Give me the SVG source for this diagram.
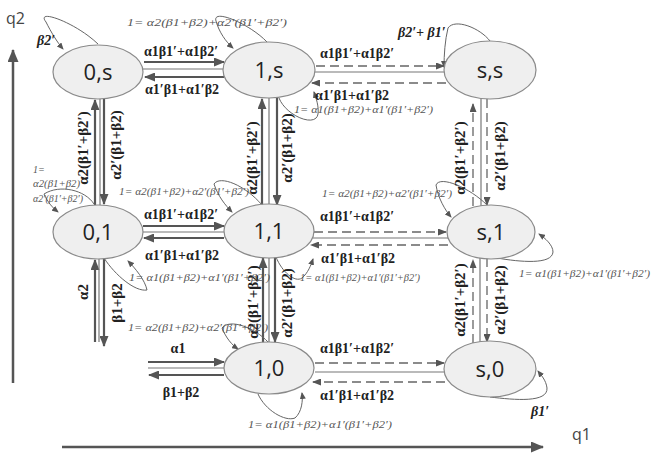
<svg xmlns="http://www.w3.org/2000/svg" width="651" height="454" viewBox="0 0 651 454">
<style>
.node ellipse{fill:#efefef;stroke:#8a8a8a;stroke-width:1.2}
.node text{font-family:"Open Sans","Liberation Sans",sans-serif;font-size:22px;fill:#222;text-anchor:middle}
.arr{stroke:#555;stroke-width:2.2;fill:none;marker-end:url(#ah)}
.mid{stroke:#777;stroke-width:1.2;fill:none}
.dash{stroke:#666;stroke-width:1.3;fill:none;stroke-dasharray:9,5;marker-end:url(#ahs)}
.loop{stroke:#666;stroke-width:1;fill:none;marker-end:url(#ahl)}
.axis{stroke:#555;stroke-width:2.5;fill:none}
.lbl{font-family:"Liberation Serif","DejaVu Serif",serif;font-size:14px;font-weight:bold;fill:#222}
.c{text-anchor:middle}
.vl{font-family:"Liberation Serif","DejaVu Serif",serif;font-size:15px;font-weight:bold;fill:#222;text-anchor:middle;dominant-baseline:central}
.sm{font-family:"Liberation Serif","DejaVu Serif",serif;font-size:10px;fill:#555;font-style:italic}
.ax{font-family:"Open Sans","Liberation Sans",sans-serif;font-size:16px;fill:#444}
</style>
<defs>
<marker id="ah" markerUnits="userSpaceOnUse" markerWidth="11" markerHeight="9" refX="10" refY="4.5" orient="auto"><path d="M0,0 L11,4.5 L0,9 z" fill="#555"/></marker>
<marker id="ahs" markerUnits="userSpaceOnUse" markerWidth="9" markerHeight="7" refX="8" refY="3.5" orient="auto"><path d="M0,0 L9,3.5 L0,7 z" fill="#555"/></marker>
<marker id="ahl" markerUnits="userSpaceOnUse" markerWidth="7" markerHeight="6" refX="6" refY="3" orient="auto"><path d="M0,0 L7,3 L0,6 z" fill="#555"/></marker>
<marker id="aha" markerUnits="userSpaceOnUse" markerWidth="13" markerHeight="11" refX="12" refY="5.5" orient="auto"><path d="M0,0 L13,5.5 L0,11 z" fill="#555"/></marker>
</defs>

<g id="axes">
<line class="axis" x1="13" y1="383" x2="13" y2="50" marker-end="url(#aha)"/>
<line class="axis" x1="62" y1="447" x2="543" y2="447" marker-end="url(#aha)"/>
<text class="ax" x="6" y="24">q2</text>
<text class="ax" x="572" y="440">q1</text>
</g>

<g id="connectors">
<line class="arr" x1="144" y1="62" x2="224" y2="62"/>
<line class="mid" x1="143" y1="69" x2="224" y2="69"/>
<line class="arr" x1="224" y1="77" x2="145" y2="77"/>
<line class="dash" x1="316" y1="66" x2="444" y2="66"/>
<line class="mid" x1="315" y1="72" x2="446" y2="72"/>
<line class="dash" x1="446" y1="83" x2="312" y2="83"/>
<line class="arr" x1="143" y1="226" x2="224" y2="226"/>
<line class="mid" x1="143" y1="232" x2="224" y2="232"/>
<line class="arr" x1="224" y1="238" x2="144" y2="238"/>
<line class="dash" x1="314" y1="232" x2="446" y2="232"/>
<line class="mid" x1="313" y1="238" x2="448" y2="238"/>
<line class="dash" x1="448" y1="245" x2="311" y2="245"/>
<line class="arr" x1="148" y1="362" x2="224" y2="362"/>
<line class="mid" x1="148" y1="368" x2="224" y2="368"/>
<line class="arr" x1="224" y1="375" x2="149" y2="375"/>
<line class="dash" x1="315" y1="363" x2="444" y2="363"/>
<line class="mid" x1="315" y1="372" x2="445" y2="372"/>
<line class="dash" x1="445" y1="382" x2="313" y2="382"/>
<line class="arr" x1="95" y1="205" x2="95" y2="100"/>
<line class="mid" x1="100" y1="99" x2="100" y2="205"/>
<line class="arr" x1="104" y1="99" x2="104" y2="204"/>
<line class="arr" x1="95" y1="342" x2="95" y2="260"/>
<line class="mid" x1="99" y1="258" x2="99" y2="342"/>
<line class="arr" x1="104" y1="258" x2="104" y2="346"/>
<line class="arr" x1="262" y1="206" x2="262" y2="99"/>
<line class="mid" x1="269" y1="98" x2="269" y2="206"/>
<line class="arr" x1="277" y1="98" x2="277" y2="205"/>
<line class="arr" x1="263" y1="343" x2="263" y2="258"/>
<line class="mid" x1="269" y1="257" x2="269" y2="343"/>
<line class="arr" x1="275" y1="257" x2="275" y2="342"/>
<line class="dash" x1="473" y1="206" x2="473" y2="104"/>
<line class="mid" x1="481" y1="99" x2="481" y2="213"/>
<line class="dash" x1="487" y1="99" x2="487" y2="205"/>
<line class="dash" x1="473" y1="343" x2="473" y2="260"/>
<line class="mid" x1="480" y1="258" x2="480" y2="350"/>
<line class="dash" x1="487" y1="258" x2="487" y2="342"/>
<path class="loop" d="M98 44 C75 22 35 8 46 22 C51 32 57 42 63 49"/>
<path class="loop" d="M267 42 C250 24 212 8 216 21 C219 32 226 42 233 48"/>
<path class="loop" d="M279 98 C286 116 316 128 318 114 C319 106 316 98 314 92"/>
<path class="loop" d="M490 41 C480 28 455 18 448 28 C445 40 444 55 444 67"/>
<path class="loop" d="M94 204 C85 190 60 184 44 194 C48 203 53 208 58 212"/>
<path class="loop" d="M104 258 C115 275 135 292 147 290 C145 280 135 268 128 261"/>
<path class="loop" d="M262 205 C245 185 220 175 214 184 C218 196 225 205 232 212"/>
<path class="loop" d="M276 257 C282 272 295 283 302 278 C308 273 311 265 313 259"/>
<path class="loop" d="M487 205 C470 188 440 175 436 185 C438 198 445 210 451 217"/>
<path class="loop" d="M497 258 C520 262 552 265 553 252 C553 245 545 238 539 234"/>
<path class="loop" d="M268 342 C255 328 230 318 222 328 C226 338 232 345 238 349"/>
<path class="loop" d="M258 394 C265 410 285 422 295 418 C302 412 303 400 302 393"/>
<path class="loop" d="M490 397 C515 400 548 403 547 388 C546 380 541 375 538 371"/>
</g>

<g id="labels">
<text class="lbl c" x="181" y="56">α1β1′+α1β2′</text>
<text class="lbl c" x="182" y="94">α1′β1+α1′β2</text>
<text class="lbl c" x="357" y="58">α1β1′+α1β2′</text>
<text class="lbl c" x="352" y="100">α1′β1+α1′β2</text>
<text class="lbl c" x="181" y="219">α1β1′+α1β2′</text>
<text class="lbl c" x="182" y="260">α1′β1+α1′β2</text>
<text class="lbl c" x="357" y="221">α1β1′+α1β2′</text>
<text class="lbl c" x="358" y="263">α1′β1+α1′β2</text>
<text class="lbl c" x="178" y="353">α1</text>
<text class="lbl c" x="181" y="397">β1+β2</text>
<text class="lbl c" x="357" y="353">α1β1′+α1β2′</text>
<text class="lbl c" x="357" y="400">α1′β1+α1′β2</text>
<text class="lbl" x="37" y="45" font-style="italic">β2′</text>
<text class="lbl" x="398" y="37" font-style="italic">β2′+ β1′</text>
<text class="lbl" x="531" y="416" font-style="italic" font-size="11">β1′</text>

<text class="vl" transform="translate(83 148) rotate(-90)">α2(β1′+β2′)</text>
<text class="vl" transform="translate(116 145) rotate(-90)">α2′(β1+β2)</text>
<text class="vl" transform="translate(252 158) rotate(-90)">α2(β1′+β2′)</text>
<text class="vl" transform="translate(287 148) rotate(-90)">α2′(β1+β2)</text>
<text class="vl" transform="translate(460 158) rotate(-90)">α2(β1′+β2′)</text>
<text class="vl" transform="translate(500 156) rotate(-90)">α2′(β1+β2)</text>
<text class="vl" transform="translate(83 292) rotate(-90)">α2</text>
<text class="vl" transform="translate(117 303) rotate(-90)">β1+β2</text>
<text class="vl" transform="translate(253 302) rotate(-90)">α2(β1′+β2′)</text>
<text class="vl" transform="translate(287 303) rotate(-90)">α2′(β1+β2)</text>
<text class="vl" transform="translate(460 300) rotate(-90)">α2(β1′+β2′)</text>
<text class="vl" transform="translate(500 300) rotate(-90)">α2′(β1+β2)</text>

<text class="sm" x="127" y="26" textLength="160" lengthAdjust="spacingAndGlyphs">1= α2(β1+β2)+α2′(β1′+β2′)</text>
<text class="sm" x="294" y="113" textLength="139" lengthAdjust="spacingAndGlyphs">1= α1(β1+β2)+α1′(β1′+β2′)</text>
<text class="sm" x="33" y="173">1=</text>
<text class="sm" x="33" y="187" textLength="47" lengthAdjust="spacingAndGlyphs">α2(β1+β2)</text>
<text class="sm" x="33" y="202" textLength="50" lengthAdjust="spacingAndGlyphs">α2′(β1′+β2′)</text>
<text class="sm" x="119" y="195" textLength="130" lengthAdjust="spacingAndGlyphs">1= α2(β1+β2)+α2′(β1′+β2′)</text>
<text class="sm" x="322" y="197" textLength="130" lengthAdjust="spacingAndGlyphs">1= α2(β1+β2)+α2′(β1′+β2′)</text>
<text class="sm" x="129" y="281" textLength="141" lengthAdjust="spacingAndGlyphs">1= α1(β1+β2)+α1′(β1′+β2′)</text>
<text class="sm" x="300" y="281" textLength="120" lengthAdjust="spacingAndGlyphs">1= α1(β1+β2)+α1′(β1′+β2′)</text>
<text class="sm" x="519" y="277" textLength="131" lengthAdjust="spacingAndGlyphs">1= α1(β1+β2)+α1′(β1′+β2′)</text>
<text class="sm" x="128" y="331" textLength="140" lengthAdjust="spacingAndGlyphs">1= α2(β1+β2)+α2′(β1′+β2′)</text>
<text class="sm" x="248" y="428" textLength="144" lengthAdjust="spacingAndGlyphs">1= α1(β1+β2)+α1′(β1′+β2′)</text>
</g>

<g id="n0s" class="node"><ellipse cx="98" cy="72" rx="45" ry="27"/><text x="98" y="80">0,s</text></g>
<g id="n1s" class="node"><ellipse cx="269" cy="70" rx="46" ry="28"/><text x="269" y="78">1,s</text></g>
<g id="nss" class="node"><ellipse cx="490" cy="70" rx="46" ry="29"/><text x="490" y="78">s,s</text></g>
<g id="n01" class="node"><ellipse cx="98" cy="232" rx="45" ry="27"/><text x="98" y="240">0,1</text></g>
<g id="n11" class="node"><ellipse cx="269" cy="231" rx="45" ry="27"/><text x="269" y="239">1,1</text></g>
<g id="ns1" class="node"><ellipse cx="491" cy="232" rx="44" ry="27"/><text x="491" y="240">s,1</text></g>
<g id="n10" class="node"><ellipse cx="269" cy="368" rx="45" ry="26"/><text x="269" y="376">1,0</text></g>
<g id="ns0" class="node"><ellipse cx="490" cy="369" rx="46" ry="28"/><text x="490" y="377">s,0</text></g>
</svg>
